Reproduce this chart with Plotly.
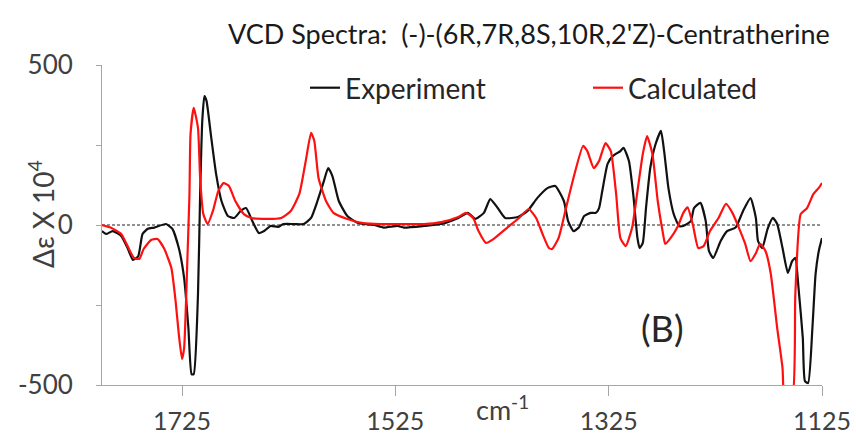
import plotly.graph_objects as go

# ---- data (wavenumber in cm-1, delta-epsilon x 10^4) ----
exp_x = [1800, 1796, 1790, 1782, 1776, 1771, 1766, 1762, 1757, 1751, 1740, 1734, 1728, 1723,
         1719, 1716, 1714, 1710, 1708, 1706, 1704, 1702, 1698, 1693, 1688, 1682, 1676, 1670,
         1665, 1659, 1653, 1648, 1642, 1635, 1630, 1620, 1611, 1604, 1598, 1592, 1588, 1584,
         1578, 1570, 1560, 1545, 1536, 1523, 1517, 1498, 1482, 1466, 1457, 1450, 1442, 1436,
         1429, 1422, 1410, 1401, 1392, 1382, 1375, 1367, 1363, 1358, 1353, 1348, 1342, 1337,
         1334, 1331, 1326, 1321, 1314, 1311, 1306, 1302, 1298, 1296, 1293, 1290, 1286, 1281,
         1276, 1273, 1269, 1264, 1259, 1255, 1248, 1245, 1239, 1234, 1231, 1227, 1220, 1214,
         1206, 1199, 1192, 1187, 1185, 1181, 1176, 1171, 1167, 1162, 1157, 1153, 1150, 1147,
         1143, 1141, 1138, 1134, 1131, 1128, 1125]
exp_y = [-19, -28, -19, -34, -72, -109, -97, -28, -12, -8, 3, -12, -72, -166,
         -322, -466, -466, -216, 97, 325, 403, 388, 284, 159, 75, 28, 22, 44,
         53, 12, -25, -19, -3, -6, 3, 3, 3, 22, 75, 137, 178, 153,
         75, 28, 6, 0, -8, -3, -8, -3, 3, 22, 38, 19, 38, 81,
         53, 22, 25, 44, 84, 116, 122, 75, 12, -19, -8, 28, 38, 38,
         53, 106, 191, 216, 231, 241, 200, 97, -41, -72, -56, 53, 178, 253,
         294, 231, 116, 34, -3, -3, 12, 53, 69, 12, -81, -103, -50, -19,
         -8, 44, 84, 22, -50, -72, -12, 22, 3, -72, -150, -113, -103, -197,
         -353, -488, -494, -322, -153, -81, -41]

calc_x = [1800, 1792, 1782, 1776, 1770, 1765, 1761, 1754, 1748, 1742, 1735, 1731, 1728, 1725,
          1723, 1720, 1718, 1717, 1714, 1710, 1708, 1705, 1701, 1696, 1691, 1686, 1681, 1675,
          1667, 1660, 1645, 1632, 1623, 1615, 1609, 1604, 1601, 1597, 1590, 1583, 1570, 1555,
          1539, 1520, 1498, 1482, 1466, 1459, 1452, 1447, 1440, 1433, 1420, 1409, 1400, 1393,
          1387, 1381, 1378, 1372, 1365, 1358, 1349, 1345, 1339, 1334, 1328, 1323, 1318, 1314,
          1309, 1303, 1298, 1293, 1289, 1284, 1279, 1274, 1272, 1267, 1260, 1255, 1251, 1246,
          1241, 1236, 1230, 1222, 1215, 1209, 1203, 1197, 1192, 1187, 1183, 1178, 1173, 1167,
          1162, 1160, 1153, 1150, 1145, 1139, 1133, 1128, 1125]
calc_y = [0, -8, -28, -66, -103, -106, -75, -47, -44, -72, -134, -238, -341, -419,
          -384, -113, 97, 284, 366, 303, 147, 34, 3, 44, 106, 131, 122, 75,
          34, 22, 19, 22, 44, 97, 200, 288, 263, 147, 75, 38, 19, 6,
          3, 3, 3, 9, 25, 38, 22, -19, -56, -44, -8, 22, 50, 22,
          -28, -72, -75, -41, 53, 147, 247, 231, 178, 200, 256, 231, 97, -41,
          -66, -8, 106, 222, 278, 222, 75, -28, -59, -41, -3, 38, 55, 0,
          -72, -66, -19, 22, 66, 38, -8, -59, -113, -88, -59, -81, -153, -322,
          -447, -540, -540, -216, 34, 53, 97, 116, 131]

x_ticks = [1725, 1525, 1325, 1125]
y_ticks = [-500, 0, 500]
y_tick_text = ["-500", "0", "500"]
y_minor_ticks = [-250, 250]

FONT = "Lato"
TXT = "#404040"
AX = "#a6a6a6"

L, R, T, B = 102, 34, 65, 52
W = 856 - L - R
H = 437 - T - B


def px(xp):
    return (xp - L) / W


def py(yp):
    return (437 - B - yp) / H


fig = go.Figure()
fig.add_trace(go.Scatter(x=exp_x, y=exp_y, mode="lines", name="Experiment",
                         line=dict(color="#111111", width=2.2, shape="spline", smoothing=0.5)))
fig.add_trace(go.Scatter(x=calc_x, y=calc_y, mode="lines", name="Calculated",
                         line=dict(color="#ff1010", width=2.2, shape="spline", smoothing=0.5)))

fig.add_shape(type="line", xref="paper", x0=0, x1=1, yref="y", y0=0, y1=0,
              line=dict(color="#222222", width=1, dash="3px,2px"), layer="below")

fig.update_layout(
    width=856, height=437,
    margin=dict(l=L, r=R, t=T, b=B, autoexpand=False),
    paper_bgcolor="white", plot_bgcolor="white",
    font=dict(family=FONT, color=TXT),
    showlegend=True,
    legend=dict(orientation="h", x=px(305), y=py(88), xanchor="left", yanchor="middle",
                font=dict(size=28, color="#262626", family=FONT),
                bgcolor="rgba(0,0,0,0)", entrywidth=238, itemwidth=30),
    xaxis=dict(range=[1800, 1125], tickvals=x_ticks, showgrid=False, zeroline=False,
               showline=True, linecolor=AX, linewidth=1, ticks="outside", ticklen=10,
               tickcolor=AX, tickfont=dict(size=25, color=TXT, family=FONT),
               ticklabelstandoff=4),
    yaxis=dict(range=[-500, 500], tickvals=y_ticks, ticktext=y_tick_text, showgrid=False,
               zeroline=False, showline=True, linecolor=AX, linewidth=1, ticks="outside",
               ticklen=5, tickcolor=AX, tickfont=dict(size=26, color=TXT, family=FONT),
               ticklabelstandoff=18,
               minor=dict(tickvals=y_minor_ticks, ticks="outside", ticklen=5, tickcolor=AX,
                          showgrid=False)),
)

fig.add_annotation(text="VCD Spectra:  (-)-(6R,7R,8S,10R,2'Z)-Centratherine",
                   xref="paper", yref="paper", x=px(529), y=py(34),
                   showarrow=False, font=dict(size=27, color="#1a1a1a", family=FONT),
                   xanchor="center", yanchor="middle")
fig.add_annotation(text="Δε X 10<sup>4</sup>", textangle=-90,
                   xref="paper", yref="paper", x=px(41), y=py(214),
                   showarrow=False, font=dict(size=28, color=TXT, family=FONT),
                   xanchor="center", yanchor="middle")
fig.add_annotation(text="cm<sup>-1</sup>", xref="paper", yref="paper",
                   x=px(502), y=py(408), showarrow=False,
                   font=dict(size=27, color=TXT, family=FONT), xanchor="center", yanchor="middle")
fig.add_annotation(text="(B)", xref="paper", yref="paper",
                   x=px(662), y=py(328), showarrow=False,
                   font=dict(size=36, color="#262626", family=FONT), xanchor="center", yanchor="middle")

fig.write_html("out.html")
